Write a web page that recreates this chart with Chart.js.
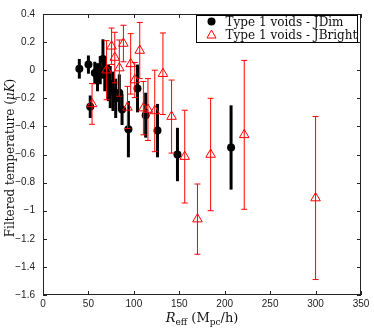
<!DOCTYPE html>
<html>
<head>
<meta charset="utf-8">
<script src="https://cdn.jsdelivr.net/npm/chart.js@4.4.1/dist/chart.umd.min.js"></script>
<style>
  html, body { margin: 0; padding: 0; background: #fff; }
</style>
</head>
<body>
<canvas id="chart" width="374" height="330"></canvas>
<script>
// Type 1 voids - JDim (black dots)
const dimX   = [40, 50, 52, 57, 60, 63, 66, 68, 72, 74, 77, 80, 84, 87, 94, 104, 113, 126, 148, 207]
const dimY   = [0.01, 0.04, -0.26, -0.02, -0.05, 0.0, 0.08, -0.03, -0.09, -0.12, -0.15, -0.2, -0.16, -0.28, -0.42, -0.13, -0.32, -0.43, -0.6, -0.55]
const dimErr = [0.07, 0.065, 0.08, 0.08, 0.1, 0.1, 0.14, 0.12, 0.13, 0.15, 0.14, 0.14, 0.13, 0.11, 0.2, 0.17, 0.16, 0.19, 0.19, 0.3]

// Type 1 voids - JBright (red triangles)
const brightX   = [54, 70, 75.5, 79, 84, 88.5, 93, 96.5, 101, 106.5, 110.5, 115.5, 123, 132, 141.5, 156, 170, 184.5, 221.5, 300]
const brightY   = [-0.24, 0.0, 0.17, 0.09, 0.015, 0.19, -0.265, 0.045, -0.07, 0.14, -0.27, -0.28, -0.29, -0.025, -0.33, -0.615, -1.06, -0.6, -0.46, -0.91]
const brightErr = [0.145, 0.21, 0.13, 0.18, 0.2, 0.13, 0.15, 0.215, 0.125, 0.2, 0.19, 0.22, 0.29, 0.29, 0.26, 0.33, 0.25, 0.4, 0.53, 0.58]

const xTicks = [0, 50, 100, 150, 200, 250, 300, 350]
const yTicks = [0.4, 0.2, 0, -0.2, -0.4, -0.6, -0.8, -1, -1.2, -1.4, -1.6]

const serif = '"DejaVu Serif", "Liberation Serif", serif'
const sans = '"Liberation Sans", Arial, sans-serif'

const fmt = v => {
    const r = Math.round(v * 10) / 10
    return r === 0 ? '0' : String(r).replace('-', '\u2212')
}

// error bars go under each dataset's markers
const errorBars = {
    id: 'errorBars',
    beforeDatasetDraw(chart, args) {
        const ds = chart.data.datasets[args.index]
        const xs = chart.scales.x, ys = chart.scales.y
        const ctx = chart.ctx
        ctx.save()
        ctx.strokeStyle = ds.barColor
        ctx.lineWidth = ds.barWidth
        ds.data.forEach((p, i) => {
            const px = xs.getPixelForValue(p.x)
            const top = ys.getPixelForValue(p.y + ds.errors[i])
            const bot = ys.getPixelForValue(p.y - ds.errors[i])
            ctx.beginPath()
            ctx.moveTo(px, top)
            ctx.lineTo(px, bot)
            if (ds.cap) {
                ctx.moveTo(px - ds.cap, top); ctx.lineTo(px + ds.cap, top)
                ctx.moveTo(px - ds.cap, bot); ctx.lineTo(px + ds.cap, bot)
            }
            ctx.stroke()
        })
        ctx.restore()
    }
}

// draw a run of text pieces with different fonts, left to right
function drawParts(ctx, parts, x, y) {
    parts.forEach(p => {
        ctx.font = p.f
        ctx.fillText(p.t, x, y + (p.dy || 0))
        x += ctx.measureText(p.t).width
    })
}
function partsWidth(ctx, parts) {
    let w = 0
    parts.forEach(p => { ctx.font = p.f; w += ctx.measureText(p.t).width })
    return w
}

// frame, inward ticks, axis titles and legend
const decor = {
    id: 'decor',
    afterDraw(chart) {
        const ctx = chart.ctx
        const a = chart.chartArea
        const xs = chart.scales.x, ys = chart.scales.y
        ctx.save()
        ctx.strokeStyle = '#222'
        ctx.lineWidth = 1
        ctx.strokeRect(a.left + 0.5, a.top + 0.5, a.right - a.left - 1, a.bottom - a.top - 1)
        ctx.beginPath()
        xTicks.forEach(v => {
            const px = Math.round(xs.getPixelForValue(v)) + 0.5
            ctx.moveTo(px, a.bottom); ctx.lineTo(px, a.bottom - 4)
            ctx.moveTo(px, a.top); ctx.lineTo(px, a.top + 4)
        })
        yTicks.forEach(v => {
            const py = Math.round(ys.getPixelForValue(v)) + 0.5
            ctx.moveTo(a.left, py); ctx.lineTo(a.left + 4, py)
            ctx.moveTo(a.right, py); ctx.lineTo(a.right - 4, py)
        })
        ctx.stroke()

        ctx.fillStyle = '#111'
        ctx.textBaseline = 'alphabetic'
        ctx.textAlign = 'left'

        // x title: R_eff (M_pc/h)
        const xParts = [
            { t: 'R', f: 'italic 13px ' + serif },
            { t: 'eff', f: '9px ' + serif, dy: 3 },
            { t: ' (M', f: '13px ' + serif },
            { t: 'pc', f: '9px ' + serif, dy: 3 },
            { t: '/h)', f: '13px ' + serif }
        ]
        let w = partsWidth(ctx, xParts)
        drawParts(ctx, xParts, 202 - w / 2, 322)

        // y title
        const yParts = [
            { t: 'Filtered temperature (', f: '12px ' + serif },
            { t: '\u03bcK', f: 'italic 12px ' + serif },
            { t: ')', f: '12px ' + serif }
        ]
        w = partsWidth(ctx, yParts)
        ctx.save()
        ctx.translate(14, 158)
        ctx.rotate(-Math.PI / 2)
        drawParts(ctx, yParts, -w / 2, 0)
        ctx.restore()

        // legend
        const lx = 196, ly = 15, lw = 161, lh = 27
        ctx.fillStyle = '#fff'
        ctx.fillRect(lx, ly, lw, lh)
        ctx.strokeStyle = '#000'
        ctx.strokeRect(lx + 0.5, ly + 0.5, lw, lh)
        ctx.fillStyle = '#000'
        ctx.beginPath()
        ctx.arc(211.5, 21.5, 4, 0, Math.PI * 2)
        ctx.fill()
        ctx.strokeStyle = '#ff0000'
        ctx.beginPath()
        ctx.moveTo(211.5, 30); ctx.lineTo(216, 38); ctx.lineTo(207, 38); ctx.closePath()
        ctx.stroke()
        ctx.fillStyle = '#111'
        ctx.font = '12px ' + serif
        const target = 132
        const fs = 12 * target / ctx.measureText('Type 1 voids - JBright').width
        ctx.font = fs.toFixed(2) + 'px ' + serif
        ctx.fillText('Type 1 voids - JDim', 225.5, 26)
        ctx.fillText('Type 1 voids - JBright', 225.5, 38.5)
        ctx.restore()
    }
}

new Chart(document.getElementById('chart'), {
    type: 'scatter',
    data: {
        datasets: [
            {
                label: 'Type 1 voids - JBright',
                data: brightX.map((x, i) => ({ x: x, y: brightY[i] })),
                errors: brightErr,
                barColor: '#ff0000',
                barWidth: 1,
                cap: 3,
                pointStyle: 'triangle',
                pointRadius: 5.5,
                pointBorderWidth: 1,
                borderColor: '#ff0000',
                backgroundColor: 'rgba(0,0,0,0)'
            },
            {
                label: 'Type 1 voids - JDim',
                data: dimX.map((x, i) => ({ x: x, y: dimY[i] })),
                errors: dimErr,
                barColor: '#000',
                barWidth: 3,
                cap: 0,
                pointStyle: 'circle',
                pointRadius: 4,
                pointBorderWidth: 0,
                borderColor: '#000',
                backgroundColor: '#000'
            }
        ]
    },
    options: {
        responsive: false,
        animation: false,
        layout: { padding: { top: 11, right: 13, left: 0, bottom: 0 } },
        plugins: { legend: { display: false }, tooltip: { enabled: false } },
        scales: {
            x: {
                type: 'linear', min: 0, max: 350,
                grid: { display: false, drawTicks: false },
                border: { display: false },
                afterFit: s => { s.height = 35 },
                ticks: {
                    stepSize: 50, autoSkip: false, maxRotation: 0, padding: 3,
                    color: '#222', font: { family: sans, size: 10 },
                    callback: v => fmt(v)
                }
            },
            y: {
                type: 'linear', min: -1.6, max: 0.4,
                grid: { display: false, drawTicks: false },
                border: { display: false },
                afterFit: s => { s.width = 43 },
                ticks: {
                    stepSize: 0.2, autoSkip: false, padding: 8,
                    color: '#222', font: { family: sans, size: 10 },
                    callback: v => fmt(v)
                }
            }
        }
    },
    plugins: [errorBars, decor]
})
</script>
</body>
</html>
